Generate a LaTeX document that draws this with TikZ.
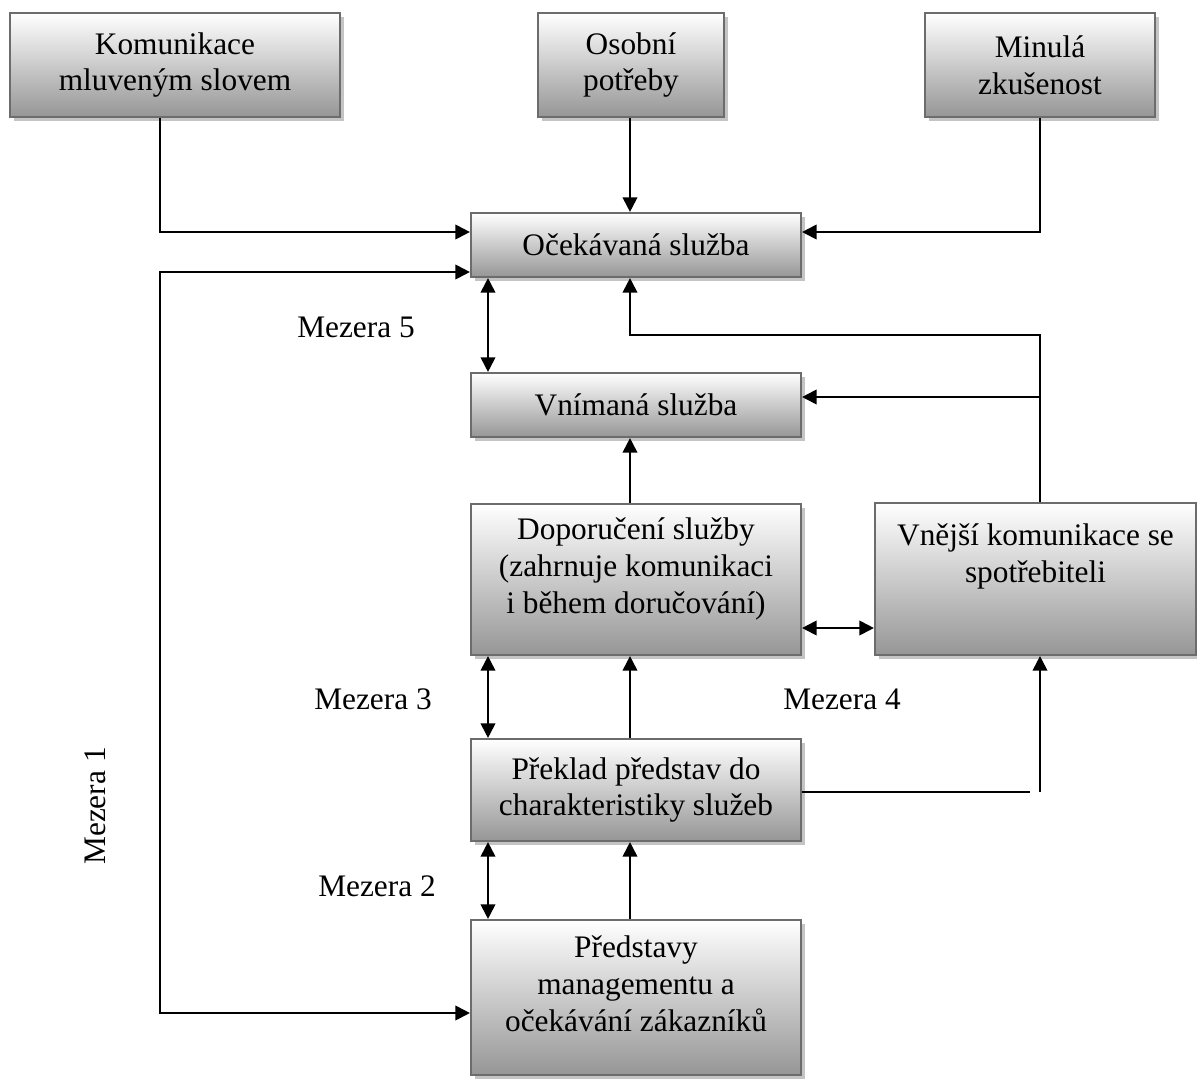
\documentclass[tikz,border=0pt]{standalone}
\usepackage{fontspec}
\setmainfont{Liberation Serif}
\usetikzlibrary{arrows.meta,shadows,calc}
\definecolor{boxline}{HTML}{6C6C6C}
\definecolor{boxbottom}{HTML}{969696}
\definecolor{shadowgray}{HTML}{C4C4C4}
\newcommand\dsp[1]{\rule[-#1]{0pt}{#1}}
\tikzset{
  every node/.style={font=\fontsize{23.5pt}{27.6pt}\selectfont},
  box/.style={draw=boxline, line width=1.6pt, rectangle, align=center,
    top color=white, bottom color=boxbottom, inner sep=0pt,
    drop shadow={shadow xshift=3pt, shadow yshift=-3pt, fill=shadowgray, opacity=1}},
  conn/.style={line width=1.5pt, draw=black},
  arr/.style={conn, -{Triangle[length=11pt,width=11pt]}},
  darr/.style={conn, {Triangle[length=11pt,width=11pt]}-{Triangle[length=11pt,width=11pt]}},
  gap/.style={inner sep=0pt}
}
\begin{document}
\begin{tikzpicture}[x=0.75pt,y=-0.75pt]
\useasboundingbox (0,0) rectangle (1197,1079);
% boxes
\node[box, minimum width=330*0.75pt, minimum height=104*0.75pt] (A) at (175,65) {Komunikace\\mluveným slovem};
\node[box, minimum width=186*0.75pt, minimum height=104*0.75pt] (B) at (631,65) {Osobní\\potřeby};
\node[box, minimum width=230*0.75pt, minimum height=104*0.75pt] (C) at (1040,65) {Minulá\\zkušenost};
\node[box, minimum width=330*0.75pt, minimum height=64*0.75pt] (D) at (636,245) {Očekávaná služba};
\node[box, minimum width=330*0.75pt, minimum height=64*0.75pt] (E) at (636,405) {Vnímaná služba};
\node[box, minimum width=330*0.75pt, minimum height=151*0.75pt] (F) at (636,579.5) {Doporučení služby\\(zahrnuje komunikaci\\i během doručování)\dsp{21pt}};
\node[box, minimum width=321*0.75pt, minimum height=152*0.75pt] (G) at (1035.5,579) {Vnější komunikace se\\spotřebiteli\dsp{39pt}};
\node[box, minimum width=330*0.75pt, minimum height=102*0.75pt] (H) at (636,790) {Překlad představ do\\charakteristiky služeb};
\node[box, minimum width=330*0.75pt, minimum height=155*0.75pt] (I) at (636,997.5) {Představy\\managementu a\\očekávání zákazníků\dsp{21pt}};
% labels
\node[gap] (m5) at (356,327) {Mezera 5};
\node[gap] (m3) at (373,699) {Mezera 3};
\node[gap] (m4) at (842,699) {Mezera 4};
\node[gap] (m2) at (377,886) {Mezera 2};
\node[gap, rotate=90] (m1) at (95,806) {Mezera 1};
% helper coordinates
\coordinate (ya) at (160,232);
\coordinate (yc) at (1040,232);
\coordinate (q1) at (160,272);
\coordinate (q2) at (160,1013);
\coordinate (xl) at (488,0);
\coordinate (xm) at (630,0);
\coordinate (g1) at (1040,335);
\coordinate (g2) at (1040,397);
\coordinate (fg) at (0,628);
\coordinate (h1) at (1030,792);
\coordinate (h2) at (1040,792);
% connectors
\draw[arr] (A.south -| ya) -- (ya) -- (ya -| D.west);
\draw[arr] (B.south -| xm) -- (D.north -| xm);
\draw[arr] (C.south -| yc) -- (yc) -- (yc -| D.east);
\draw[darr] (q1 -| D.west) -- (q1) -- (q2) -- (q2 -| I.west);
\draw[darr] (D.south -| xl) -- (E.north -| xl);
\draw[arr] (G.north -| g1) -- (g1) -- (g1 -| xm) -- (D.south -| xm);
\draw[arr] (g2) -- (g2 -| E.east);
\draw[arr] (F.north -| xm) -- (E.south -| xm);
\draw[darr] (fg -| F.east) -- (fg -| G.west);
\draw[darr] (F.south -| xl) -- (H.north -| xl);
\draw[arr] (H.north -| xm) -- (F.south -| xm);
\draw[conn] (h1 -| H.east) -- (h1);
\draw[arr] (h2) -- (G.south -| h2);
\draw[darr] (H.south -| xl) -- (I.north -| xl);
\draw[arr] (I.north -| xm) -- (H.south -| xm);
\end{tikzpicture}
\end{document}
